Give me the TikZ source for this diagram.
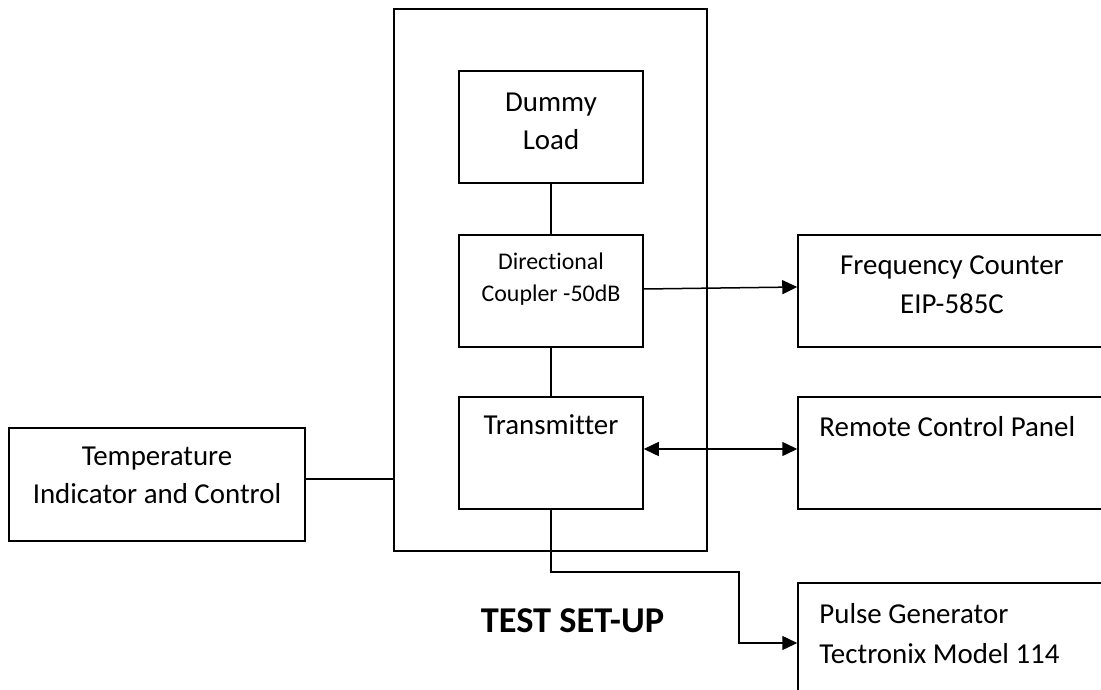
\documentclass[tikz,border=0pt]{standalone}
\usepackage{fontspec}
\setmainfont{Carlito}[Ligatures={NoCommon}]
\usetikzlibrary{arrows.meta}

\tikzset{
  blk/.style={draw=black,line width=1.5bp,minimum width=184bp,minimum height=112bp},
  wide/.style={blk,minimum width=308bp},
  txt/.style={inner sep=0pt,align=center,font=\fontsize{29}{38}\selectfont},
  tip/.tip={Triangle[length=15bp,width=14bp]},
  arr/.style={line width=1.5bp,-tip},
  wire/.style={line width=1.5bp}
}

\begin{document}
\begin{tikzpicture}[x=1bp,y=-1bp]
		\clip (0,0) rectangle (1101,690);
		\node[blk,minimum width=313bp,minimum height=542bp] (rig) at (550.5,280) {};
		\node[blk,label={[txt,anchor=north,yshift=-23bp]north:{Dummy\\Load}}] (load) at (551,127) {};
		\node[blk,label={[txt,anchor=north,yshift=-18bp,font=\fontsize{24}{33}\selectfont]north:{Directional\\Coupler -50dB}}] (coupler) at (551,291) {};
		\node[blk,label={[txt,anchor=north,yshift=-18bp]north:{Transmitter}}] (tx) at (551,453) {};
		\node[blk,minimum width=296bp,minimum height=113bp,label={[txt,anchor=north,yshift=-20bp]north:{Temperature\\Indicator and Control}}] (temp) at (157,484.5) {};
		\node[wide,label={[txt,anchor=north,yshift=-21bp,font=\fontsize{29}{39}\selectfont]north:{Frequency Counter\\EIP-585C}}] (freq) at (952,291) {};
		\node[wide,label={[txt,anchor=north west,xshift=22bp,yshift=-20bp]north west:{Remote Control Panel}}] (remote) at (952,453) {};
		\node[wide,minimum height=120bp,label={[txt,align=left,anchor=north west,xshift=22bp,yshift=-21bp,font=\fontsize{29}{40}\selectfont]north west:{Pulse Generator\\Tectronix Model 114}}] (pulse) at (952,643) {};
		\node[anchor=base,inner sep=0pt,font=\fontsize{36.5}{42}\selectfont\bfseries] (title) at (572.5,632) {TEST SET-UP};
		\coordinate (bend) at (739,572);
		\draw [wire] (load.south) -- (coupler.north);
		\draw [wire] (coupler.south) -- (tx.north);
		\draw [wire] ([yshift=5.5bp]temp.east) -- ([yshift=5.5bp]temp.east -| rig.west);
		\draw [arr] ([yshift=2bp]coupler.east) -- ([yshift=4bp]freq.west);
		\draw [arr,tip-tip] ([yshift=4bp]tx.east) -- ([yshift=4bp]remote.west);
		\draw [arr] (tx.south) |- (bend) |- (pulse.west);
\end{tikzpicture}
\end{document}
